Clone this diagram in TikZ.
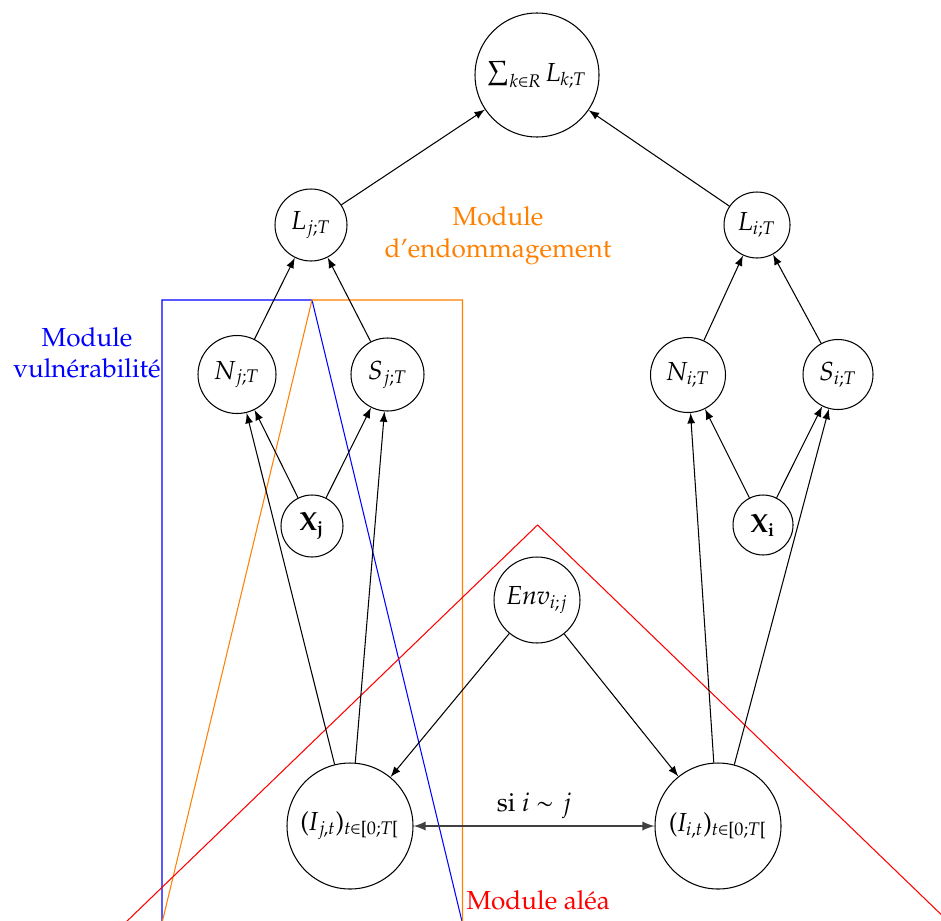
\documentclass[tikz,border=0pt]{standalone}
\usepackage[T1]{fontenc}
\usepackage{pxfonts}
\usetikzlibrary{arrows}
\tikzset{
  nd/.style={circle,draw,inner sep=0pt,line width=0.4pt},
  arr/.style={-latex,line width=0.4pt},
}
\begin{document}
\begin{tikzpicture}[x=0.383pt,y=-0.383pt]
\useasboundingbox (0,0) rectangle (941,920);
\begin{scope}
\clip (0,0) rectangle (941,920);
% coloured modules
\draw[blue] (162,960) -- (162,300) -- (312,300) -- (312+0.2414*660,960);
\draw[orange] (312-0.2408*660,960) -- (312,300) -- (462.5,300) -- (462.5,960);
\draw[red] (537.5-1.0363*435,960) -- (537.5,525) -- (537.5+1.0363*435,960);
\end{scope}
% nodes
\node[nd,minimum size=124*0.383pt] (sum) at (537,75) {$\sum_{k\in R} L_{k;T}$};
\node[nd,minimum size=72*0.383pt] (Lj) at (311,225) {$L_{j;T}$};
\node[nd,minimum size=66*0.383pt] (Li) at (757,225) {$L_{i;T}$};
\node[nd,minimum size=78*0.383pt] (Nj) at (237,374.5) {$N_{j;T}$};
\node[nd,minimum size=73*0.383pt] (Sj) at (387.5,374.5) {$S_{j;T}$};
\node[nd,minimum size=62*0.383pt] (Xj) at (312,526) {$\mathbf{X_j}$};
\node[nd,minimum size=75*0.383pt] (Ni) at (688,375) {$N_{i;T}$};
\node[nd,minimum size=70*0.383pt] (Si) at (838,374.5) {$S_{i;T}$};
\node[nd,minimum size=60*0.383pt] (Xi) at (763,525) {$\mathbf{X_i}$};
\node[nd,minimum size=86*0.383pt] (Env) at (537,600) {$Env_{i;j}$};
\node[nd,minimum size=126*0.383pt] (Ij) at (350,826) {$(I_{j,t})_{t\in[0;T[}$};
\node[nd,minimum size=126*0.383pt] (Ii) at (718,826) {$(I_{i,t})_{t\in[0;T[}$};
% labels
\node[orange,align=center] (lend) at (498,236) {Module\\d'endommagement};
\node[blue,align=center] (lvul) at (87,353) {Module\\vuln\'erabilit\'e};
\node[red,anchor=west,inner sep=0pt] (lalea) at (466,900) {Module al\'ea};
% edges
\draw[arr] (Lj) -- (sum);
\draw[arr] (Li) -- (sum);
\draw[arr] (Nj) -- (Lj);
\draw[arr] (Sj) -- (Lj);
\draw[arr] (Ni) -- (Li);
\draw[arr] (Si) -- (Li);
\draw[arr] (Xj) -- (Nj);
\draw[arr] (Xj) -- (Sj);
\draw[arr] (Xi) -- (Ni);
\draw[arr] (Xi) -- (Si);
\draw[arr] (Ij) -- (Nj);
\draw[arr] (Ij) -- (Sj);
\draw[arr] (Ii) -- (Ni);
\draw[arr] (Ii) -- (Si);
\draw[arr] (Env) -- (Ij);
\draw[arr] (Env) -- (Ii);
\draw[latex-latex,line width=0.6pt,black!75] (Ij) -- node[above=-1pt,black] {si $i\sim j$} (Ii);
\end{tikzpicture}
\end{document}
